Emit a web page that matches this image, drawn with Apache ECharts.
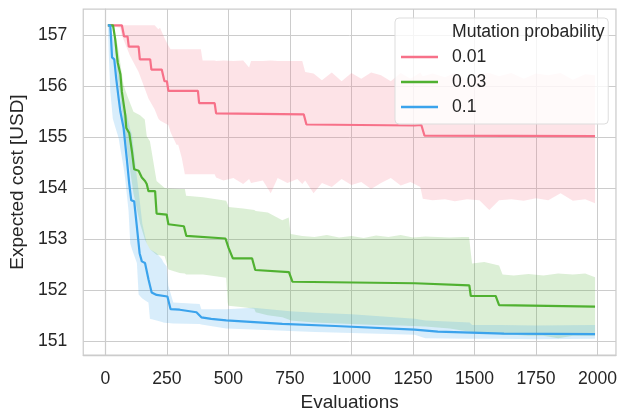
<!DOCTYPE html>
<html lang="en">
<head>
    <meta charset="UTF-8">
    <title>Expected cost vs evaluations</title>
    <script src="https://cdn.jsdelivr.net/npm/echarts@6/dist/echarts.min.js"></script>
    <style>
        html, body { margin: 0; padding: 0; background: #fff; }
    </style>
</head>
<body>
<div style="height: 417px;width: 620px" id="container"></div>
<script>
    var xTicks = [0, 250, 500, 750, 1000, 1250, 1500, 1750, 2000];
    var yTicks = [151, 152, 153, 154, 155, 156, 157];

    // mean lines
    var redX = [10, 67, 76, 90, 95, 135, 140, 182, 187, 229, 240, 250, 256, 376, 381, 444, 450, 806, 817, 1257, 1284, 1297, 1990];
    var redY = [157.2, 157.2, 156.98, 156.98, 156.78, 156.78, 156.53, 156.53, 156.33, 156.33, 156.1, 156.1, 155.91, 155.91, 155.67, 155.67, 155.47, 155.45, 155.25, 155.23, 155.24, 155.03, 155.02];

    var greenX = [10, 31, 40, 50, 61, 67, 81, 85, 97, 108,
        117, 135, 148, 161, 168, 175, 202, 208, 249, 256,
        319, 329, 488, 501, 518, 596, 609, 746, 760, 1257,
        1479, 1485, 1586, 1600, 1990];
    var greenY = [157.2, 157.2, 156.92, 156.47, 156.24, 155.89, 155.43, 155.18, 155.08, 154.72,
        154.37, 154.34, 154.21, 154.14, 154.08, 153.94, 153.94, 153.5, 153.48, 153.29,
        153.25, 153.06, 153.01, 152.82, 152.62, 152.62, 152.39, 152.35, 152.16, 152.13,
        152.09, 151.88, 151.88, 151.7, 151.67];

    var blueX = [10, 20, 27, 36, 44, 54, 61, 74, 81, 88,
        97, 105, 117, 128, 139, 148, 161, 175, 188, 208,
        252, 265, 302, 370, 390, 430, 491, 719, 934, 1257,
        1351, 1620, 1990];
    var blueY = [157.2, 157.2, 156.57, 156.53, 156.15, 155.76, 155.5, 155.18, 154.85, 154.53,
        154.08, 153.76, 153.74, 153.24, 152.72, 152.56, 152.53, 152.21, 151.95, 151.9,
        151.87, 151.62, 151.61, 151.56, 151.46, 151.43, 151.4, 151.33, 151.29, 151.22,
        151.18, 151.14, 151.13];

    // confidence bands
    var rBandX = [10, 60, 67, 100, 135, 175, 200, 215, 222, 240,
        256, 265, 289, 296, 310, 323, 388, 395, 444, 450,
        480, 520, 560, 584, 592, 640, 672, 700, 740, 780,
        800, 812, 846, 880, 920, 960, 1000, 1040, 1080, 1120,
        1160, 1200, 1240, 1280, 1290, 1330, 1380, 1420, 1470, 1520,
        1560, 1600, 1650, 1700, 1750, 1800, 1850, 1900, 1950, 1990];
    var rBandHi = [157.2, 157.2, 157.2, 157.2, 157.2, 157.2, 157.2, 157.12, 157.15, 156.95,
        156.8, 156.73, 156.73, 156.73, 156.73, 156.73, 156.73, 156.51, 156.51, 156.5,
        156.51, 156.5, 156.51, 156.37, 156.5, 156.5, 156.51, 156.5, 156.5, 156.5,
        156.5, 156.28, 156.25, 156.12, 156.27, 156.1, 156.26, 156.15, 156.27, 156.22,
        156.1, 156.26, 156.15, 156.27, 156.2, 156.25, 156.18, 156.26, 156.12, 156.25,
        156.26, 156.2, 156.26, 156.15, 156.25, 156.22, 156.26, 156.13, 156.24, 156.22];
    var rBandLo = [157.2, 157.15, 157.0, 156.6, 156.28, 155.76, 155.55, 155.37, 155.33, 155.28,
        155.24, 155.1, 154.85, 154.85, 154.6, 154.27, 154.27, 154.27, 154.27, 154.21,
        154.15, 154.2, 154.08, 154.18, 154.1, 154.15, 153.9, 154.2, 154.1, 154.18,
        154.08, 154.15, 153.9, 154.1, 154.02, 154.18, 154.06, 154.12, 153.98, 154.1,
        154.2, 154.05, 154.12, 154.02, 153.79, 153.76, 153.78, 153.74, 153.78, 153.76,
        153.57, 153.76, 153.78, 153.75, 153.8, 153.76, 153.9, 153.75, 153.78, 153.7];

    var gBandX = [10, 31, 50, 74, 90, 114, 141, 160, 168, 181,
        208, 241, 256, 302, 323, 328, 397, 491, 497, 500,
        560, 605, 611, 660, 719, 745, 753, 800, 850, 900,
        950, 1000, 1050, 1100, 1150, 1200, 1250, 1300, 1350, 1400,
        1450, 1478, 1490, 1540, 1600, 1614, 1660, 1720, 1780, 1840,
        1900, 1950, 1990];
    var gBandHi = [157.2, 157.2, 156.8, 156.02, 155.8, 155.5, 155.43, 155.35, 155.02, 154.92,
        154.14, 154.0, 153.99, 153.98, 153.98, 153.85, 153.82, 153.75, 153.68, 153.63,
        153.6, 153.57, 153.55, 153.52, 153.37, 153.42, 153.1, 153.06, 153.04, 153.08,
        153.03, 153.06, 153.02, 153.07, 153.04, 153.08, 153.03, 153.05, 153.04, 153.03,
        153.04, 153.04, 152.52, 152.55, 152.48, 152.3, 152.28, 152.31, 152.28, 152.32,
        152.3, 152.32, 152.25];
    var gBandLo = [157.2, 157.2, 156.2, 155.3, 154.7, 153.9, 153.3, 153.0, 152.91, 152.8,
        152.69, 152.66, 152.4, 152.33, 152.32, 152.3, 152.3, 152.24, 151.75, 151.69,
        151.66, 151.63, 151.56, 151.5, 151.46, 151.42, 151.4, 151.38, 151.36, 151.35,
        151.34, 151.33, 151.32, 151.31, 151.3, 151.3, 151.29, 151.28, 151.26, 151.24,
        151.2, 151.18, 151.16, 151.15, 151.14, 151.12, 151.12, 151.1, 151.1, 151.05,
        151.1, 151.1, 151.1];

    var bBandX = [10, 14, 20, 30, 40, 54, 60, 74, 80, 94,
        101, 108, 128, 135, 150, 168, 175, 181, 208, 230,
        235, 249, 256, 276, 383, 390, 491, 600, 750, 854,
        1000, 1257, 1300, 1480, 1490, 1600, 1750, 1990];
    var bBandHi = [157.2, 157.2, 157.2, 157.0, 156.8, 156.5, 156.3, 155.7, 155.55, 155.3,
        155.15, 155.05, 154.21, 153.95, 153.3, 152.91, 152.85, 152.8, 152.72, 152.6,
        152.55, 152.46, 152.08, 151.75, 151.72, 151.62, 151.62, 151.65, 151.58, 151.55,
        151.52, 151.43, 151.4, 151.36, 151.31, 151.31, 151.3, 151.31];
    var bBandLo = [157.2, 156.6, 155.9, 155.37, 155.2, 154.98, 154.8, 154.4, 154.2, 153.56,
        152.91, 152.8, 152.53, 151.91, 151.83, 151.77, 151.75, 151.43, 151.4, 151.37,
        151.36, 151.35, 151.35, 151.34, 151.33, 151.32, 151.24, 151.22, 151.19, 151.17,
        151.15, 151.12, 151.05, 151.04, 151.04, 151.04, 151.03, 151.04];

    var names = ['0.01', '0.03', '0.1'];
    var colors = ['#f77189', '#50b131', '#3ba3ec'];

    var font = '"Liberation Sans", Arial, sans-serif';
    var textColor = '#262626';

    function pairs(xs, ys) {
        var out = [];
        for (var i = 0; i < xs.length; i++) {
            out.push([xs[i], ys[i]]);
        }
        return out;
    }

    function lineSeries(name, xs, ys, color) {
        return {
            type: 'line',
            name: name,
            data: pairs(xs, ys),
            showSymbol: false,
            symbol: 'none',
            z: 3,
            lineStyle: { color: color, width: 2.2 },
            itemStyle: { color: color }
        };
    }

    // band polygon drawn through the axis scales
    function bandSeries(name, xs, lo, hi, color) {
        return {
            type: 'custom',
            name: name,
            silent: true,
            z: 1,
            clip: true,
            data: [[xs[0], lo[0]]],
            renderItem: function (params, api) {
                var pts = [];
                for (var i = 0; i < xs.length; i++) {
                    pts.push(api.coord([xs[i], hi[i]]));
                }
                for (var j = xs.length - 1; j >= 0; j--) {
                    pts.push(api.coord([xs[j], lo[j]]));
                }
                return {
                    type: 'polygon',
                    shape: { points: pts },
                    style: { fill: color, opacity: 0.2 }
                };
            }
        };
    }

    var myChart = echarts.init(document.getElementById('container'));

    var options = {
        animation: false,
        backgroundColor: '#ffffff',
        textStyle: { fontFamily: font },
        grid: {
            left: 81,
            right: 3,
            top: 9,
            bottom: 57,
            show: true,
            borderColor: '#cccccc',
            borderWidth: 1.25
        },
        title: {
            text: 'Mutation probability',
            left: 452,
            top: 23,
            z: 10,
            padding: 0,
            textStyle: { fontFamily: font, fontSize: 17.6, fontWeight: 'normal', color: textColor }
        },
        legend: {
            data: names,
            orient: 'vertical',
            left: 395,
            top: 18,
            icon: 'rect',
            itemWidth: 37,
            itemHeight: 2.4,
            itemGap: 5,
            padding: [29, 122, 7, 6],
            backgroundColor: 'rgba(255,255,255,0.8)',
            borderColor: '#dddddd',
            borderWidth: 1,
            borderRadius: 4,
            textStyle: {
                fontFamily: font,
                fontSize: 17.6,
                color: textColor,
                lineHeight: 20,
                padding: [0, 0, 0, 9]
            }
        },
        xAxis: {
            type: 'value',
            min: -90,
            max: 2075,
            name: 'Evaluations',
            nameLocation: 'middle',
            nameGap: 38,
            nameTextStyle: { fontFamily: font, fontSize: 19, color: textColor },
            axisLine: { show: true, lineStyle: { color: '#cccccc', width: 1.25 } },
            axisTick: { show: false, customValues: xTicks },
            axisLabel: {
                customValues: xTicks,
                margin: 15,
                fontFamily: font,
                fontSize: 17.6,
                color: textColor,
                formatter: function (v) { return String(v); }
            },
            splitLine: { show: true, lineStyle: { color: '#cccccc', width: 1 } }
        },
        yAxis: {
            type: 'value',
            min: 150.72,
            max: 157.52,
            name: 'Expected cost [USD]',
            nameLocation: 'middle',
            nameGap: 48,
            nameTextStyle: { fontFamily: font, fontSize: 19, color: textColor },
            axisLine: { show: true, lineStyle: { color: '#cccccc', width: 1.25 } },
            axisTick: { show: false, customValues: yTicks },
            axisLabel: {
                customValues: yTicks,
                margin: 16,
                fontFamily: font,
                fontSize: 17.6,
                color: textColor
            },
            splitLine: { show: true, lineStyle: { color: '#cccccc', width: 1 } }
        },
        series: [
            bandSeries('band 0.01', rBandX, rBandLo, rBandHi, colors[0]),
            bandSeries('band 0.03', gBandX, gBandLo, gBandHi, colors[1]),
            bandSeries('band 0.1', bBandX, bBandLo, bBandHi, colors[2]),
            lineSeries(names[0], redX, redY, colors[0]),
            lineSeries(names[1], greenX, greenY, colors[1]),
            lineSeries(names[2], blueX, blueY, colors[2])
        ]
    };

    myChart.setOption(options);
</script>
</body>
</html>
